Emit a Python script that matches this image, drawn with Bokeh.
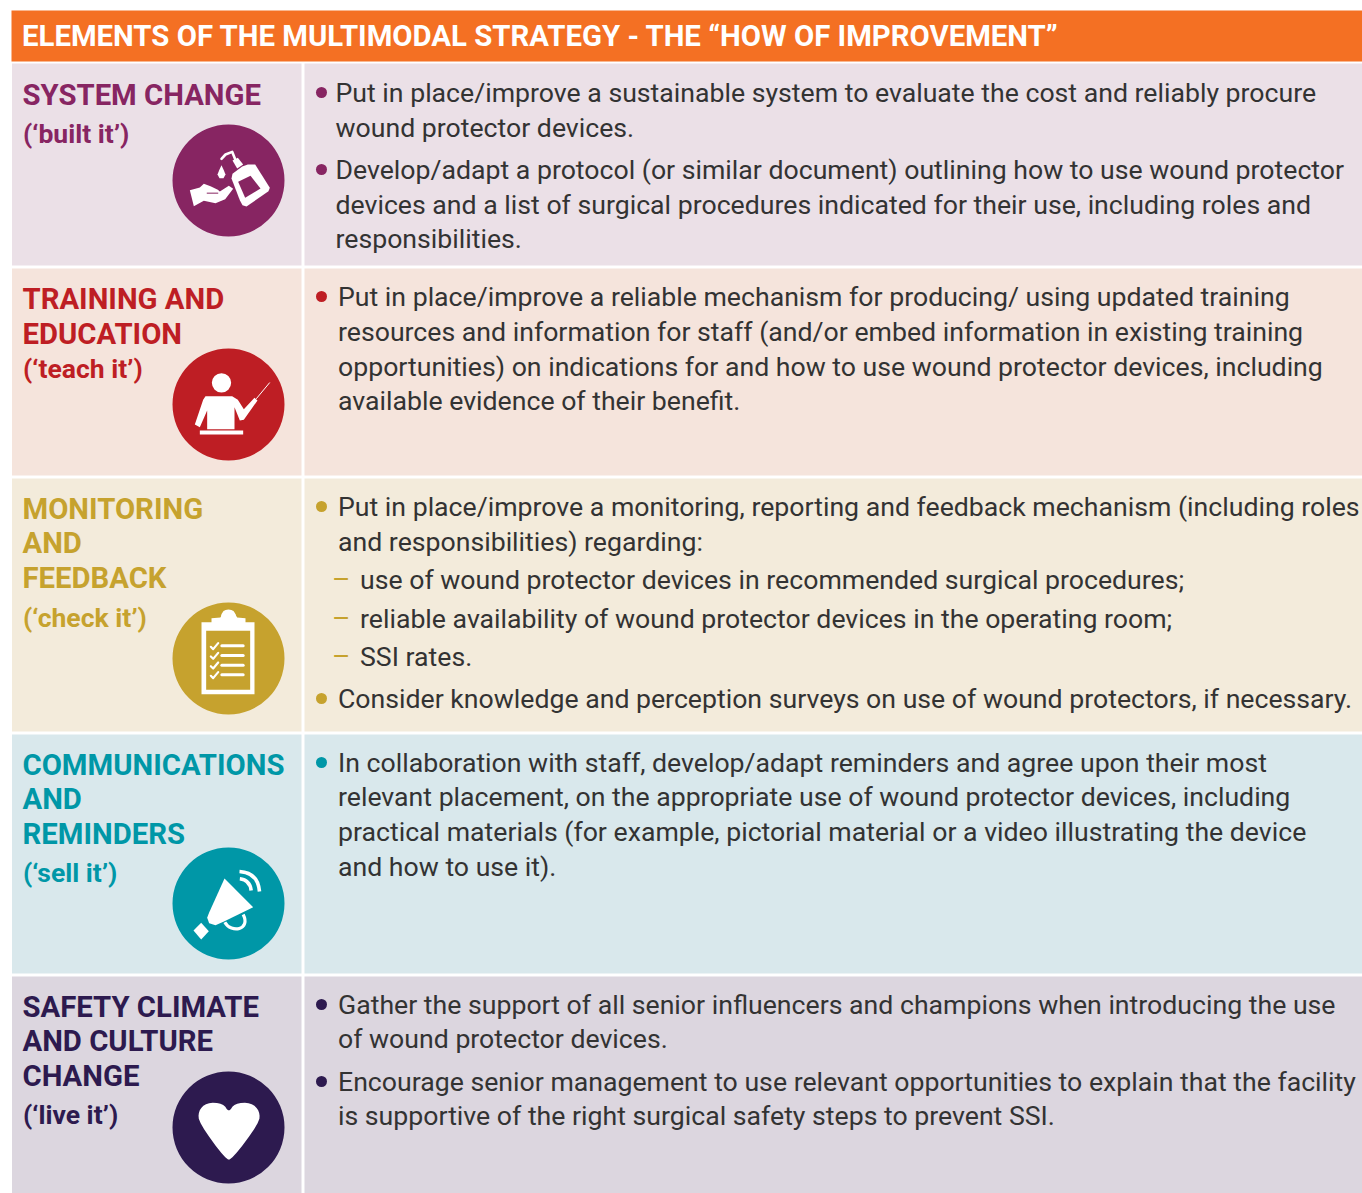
from bokeh.plotting import figure
from bokeh.models import Range1d
from bokeh.core.properties import value
from bokeh.embed import file_html
from bokeh.resources import INLINE

HEADER = "ELEMENTS OF THE MULTIMODAL STRATEGY - THE “HOW OF IMPROVEMENT”"

titles = [
    ["SYSTEM CHANGE"],
    ["TRAINING AND", "EDUCATION"],
    ["MONITORING", "AND", "FEEDBACK"],
    ["COMMUNICATIONS", "AND", "REMINDERS"],
    ["SAFETY CLIMATE", "AND CULTURE", "CHANGE"],
]
subtitles = ["(‘built it’)", "(‘teach it’)", "(‘check it’)", "(‘sell it’)", "(‘live it’)"]

body_lines = [
    ["Put in place/improve a sustainable system to evaluate the cost and reliably procure",
     "wound protector devices.",
     "Develop/adapt a protocol (or similar document) outlining how to use wound protector",
     "devices and a list of surgical procedures indicated for their use, including roles and",
     "responsibilities."],
    ["Put in place/improve a reliable mechanism for producing/ using updated training",
     "resources and information for staff (and/or embed information in existing training",
     "opportunities) on indications for and how to use wound protector devices, including",
     "available evidence of their benefit."],
    ["Put in place/improve a monitoring, reporting and feedback mechanism (including roles",
     "and responsibilities) regarding:",
     "use of wound protector devices in recommended surgical procedures;",
     "reliable availability of wound protector devices in the operating room;",
     "SSI rates.",
     "Consider knowledge and perception surveys on use of wound protectors, if necessary."],
    ["In collaboration with staff, develop/adapt reminders and agree upon their most",
     "relevant placement, on the appropriate use of wound protector devices, including",
     "practical materials (for example, pictorial material or a video illustrating the device",
     "and how to use it)."],
    ["Gather the support of all senior influencers and champions when introducing the use",
     "of wound protector devices.",
     "Encourage senior management to use relevant opportunities to explain that the facility",
     "is supportive of the right surgical safety steps to prevent SSI."],
]

accent = ["#872562", "#BE1E24", "#C6A22E", "#0097A7", "#2D1A4F"]
panel = ["#EBE0E7", "#F5E4DC", "#F3EBDB", "#D9E8EC", "#DCD6DF"]
ORANGE = "#F47023"
INK = "#333333"

# layout
row_top = [63, 268, 478, 734, 976]
row_bot = [265, 475, 731, 973, 1193]
title_y = [[94], [298, 333], [508, 542, 577], [764, 798, 833], [1006, 1040, 1075]]
sub_y = [133, 368, 617, 872, 1114]
body_y = [[92, 127, 169, 204, 238], [296, 331, 366, 400],
          [506, 541, 579, 618, 656, 698], [762, 796, 831, 866], [1004, 1038, 1081, 1115]]
body_x = [[335] * 5, [337.5] * 4, [337.5, 337.5, 359.5, 359.5, 359.5, 337.5],
          [337.5] * 4, [337.5] * 4]
bullet_y = [[92, 169], [296], [506, 698], [762], [1004, 1081]]
dash_y = [579, 618, 656]
icon_c = [(228, 180), (228, 404), (228, 658), (228, 903), (228, 1127)]

p = figure(width=1362, height=1193, x_range=Range1d(0, 1362), y_range=Range1d(1193, 0),
           output_backend="svg", toolbar_location=None, min_border=0)
p.axis.visible = False
p.grid.visible = False
p.outline_line_color = None
p.background_fill_color = "white"

F = value("Roboto")


def txt(xs, ys, texts, color, size, style="normal"):
    p.text(xs, ys, text=texts, text_color=color, text_font=F, text_font_size=f"{size}px",
           text_font_style=style, text_baseline="middle", text_align="left")


p.quad(left=[11], right=[1362], top=[10], bottom=[61], fill_color=ORANGE, line_color=None)
txt([21.5], [35], [HEADER], "#FFFFFF", 29.35, "bold")

for i in range(5):
    p.quad(left=[11.5], right=[301], top=[row_top[i]], bottom=[row_bot[i]], fill_color=panel[i], line_color=None)
    p.quad(left=[304], right=[1362], top=[row_top[i]], bottom=[row_bot[i]], fill_color=panel[i], line_color=None)
    txt([22] * len(titles[i]), title_y[i], titles[i], accent[i], 29.3, "bold")
    txt([22.5], [sub_y[i]], [subtitles[i]], accent[i], 26.5, "bold")
    txt(body_x[i], body_y[i], body_lines[i], INK, 26.67)
    p.circle([321] * len(bullet_y[i]), bullet_y[i], radius=5.5, fill_color=accent[i], line_color=None)
    p.circle([icon_c[i][0]], [icon_c[i][1]], radius=56, fill_color=accent[i], line_color=None)

txt([331.5] * 3, dash_y, ["–"] * 3, accent[2], 28)


def chaikin(pts, n=2):
    for _ in range(n):
        out = []
        for a, b in zip(pts, pts[1:] + pts[:1]):
            out.append((0.75 * a[0] + 0.25 * b[0], 0.75 * a[1] + 0.25 * b[1]))
            out.append((0.25 * a[0] + 0.75 * b[0], 0.25 * a[1] + 0.75 * b[1]))
        pts = out
    return pts


def shape(pts, ox, oy, color="#FFFFFF", smooth=0):
    if smooth:
        pts = chaikin(pts, smooth)
    p.patch([ox + a / 3 for a, b in pts], [oy + b / 3 for a, b in pts], fill_color=color, line_color=None)


def stroke(pts, ox, oy, w, color="#FFFFFF"):
    p.line([ox + a / 3 for a, b in pts], [oy + b / 3 for a, b in pts], line_color=color, line_width=w,
           line_cap="round", line_join="round")


def dot(x, y, r, ox, oy, color="#FFFFFF"):
    p.circle([ox + x / 3], [oy + y / 3], radius=r / 3, fill_color=color, line_color=None)


# soap and hand
ox, oy = 160, 118
shape([(88, 215), (118, 207), (130, 196), (150, 203), (172, 214), (178, 219), (205, 202), (218, 211),
       (194, 242), (165, 254), (130, 247), (100, 263)], ox, oy)
stroke([(140, 224), (172, 224)], ox, oy, 1, accent[0])
shape([(213, 180), (216, 166), (245, 144), (262, 138), (284, 138), (328, 208), (324, 218), (258, 264),
       (246, 260), (238, 245)], ox, oy)
shape([(233, 190), (270, 172), (300, 210), (254, 238)], ox, oy, accent[0])
shape([(216, 126), (232, 118), (248, 138), (230, 150)], ox, oy)
stroke([(183, 121), (195, 108), (215, 100), (224, 122)], ox, oy, 2.6)
shape([(183, 140), (190, 155), (195, 168), (189, 179), (177, 179), (171, 168), (176, 155)], ox, oy)

# teacher
ox, oy = 160, 340
dot(183, 127, 29, ox, oy)
shape([(135, 167), (215, 167), (232, 178), (250, 206), (282, 172), (291, 180), (250, 238), (238, 240),
       (222, 200), (222, 266), (140, 266), (140, 210), (118, 260), (103, 252), (128, 178)], ox, oy)
shape([(118, 270), (248, 270), (248, 282), (118, 282)], ox, oy)
stroke([(288, 174), (327, 127)], ox, oy, 1)

# clipboard
ox, oy = 160, 595
shape([(123, 80), (153, 80), (153, 68), (180, 66), (190, 46), (218, 46), (230, 66), (255, 68), (255, 80),
       (282, 80), (282, 296), (123, 296)], ox, oy)
dot(204, 65, 23, ox, oy)
shape([(137, 106), (269, 106), (269, 283), (137, 283)], ox, oy, accent[2])
for k in range(4):
    yy = 151 + 29 * k
    stroke([(184, yy), (248, yy)], ox, oy, 3)
    stroke([(151, yy + 3), (158, yy + 10), (173, yy - 8)], ox, oy, 2.2)

# megaphone
ox, oy = 160, 840
shape([(192, 114), (278, 200), (192, 242), (165, 254), (146, 248), (140, 232), (146, 216)], ox, oy)
shape([(122, 247), (145, 272), (122, 297), (99, 270)], ox, oy)
p.bezier(x0=[ox + 193 / 3], y0=[oy + 245 / 3], x1=[ox + 248 / 3], y1=[oy + 222 / 3],
         cx0=[ox + 212 / 3], cy0=[oy + 280 / 3], cx1=[ox + 272 / 3], cy1=[oy + 268 / 3],
         line_color="#FFFFFF", line_width=3.2)
p.quadratic(x0=[ox + 238 / 3], y0=[oy + 115 / 3], x1=[ox + 272 / 3], y1=[oy + 150 / 3],
            cx=[ox + 268 / 3], cy=[oy + 118 / 3], line_color="#FFFFFF", line_width=3.6)
p.quadratic(x0=[ox + 237 / 3], y0=[oy + 93 / 3], x1=[ox + 297 / 3], y1=[oy + 153 / 3],
            cx=[ox + 292 / 3], cy=[oy + 96 / 3], line_color="#FFFFFF", line_width=3.6)

# heart
ox, oy = 160, 1060
shape([(205, 156), (222, 128), (272, 126), (298, 152), (296, 188), (214, 297), (196, 297), (116, 188),
       (113, 152), (138, 126), (188, 128)], ox, oy, smooth=2)

open("out.html", "w").write(file_html(p, INLINE))
